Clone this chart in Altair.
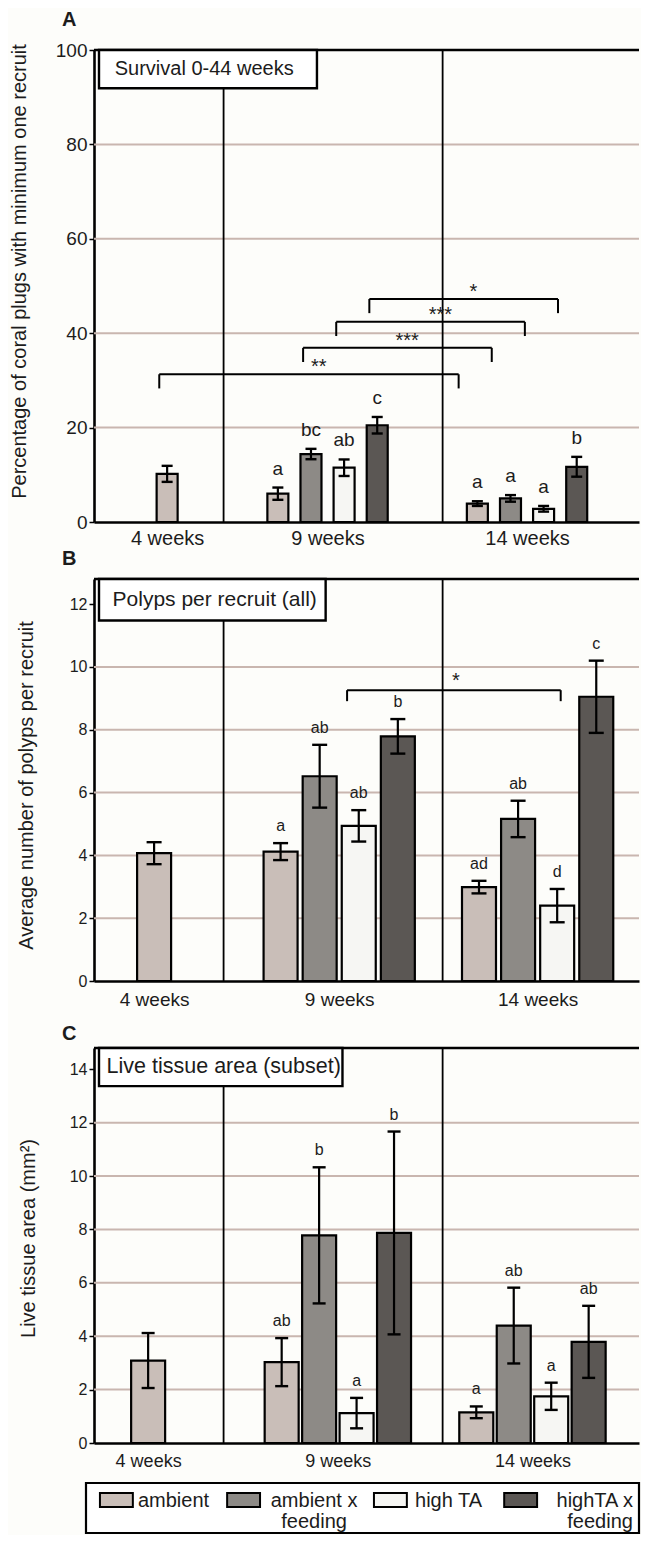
import altair as alt
import pandas as pd

# ---------------- data ----------------
TREATMENTS = ["ambient", "ambient x feeding", "high TA", "highTA x feeding"]
GROUPS = ["4 weeks", "9 weeks", "14 weeks"]

# Panel A - percentage of coral plugs with minimum one recruit
A_MEAN_4W = [10.2]
A_ERR_4W = [1.7]
A_MEAN_9W = [6.0, 14.4, 11.5, 20.5]
A_ERR_9W = [1.3, 1.1, 1.75, 1.75]
A_MEAN_14W = [3.9, 5.0, 2.8, 11.7]
A_ERR_14W = [0.5, 0.7, 0.6, 2.1]
A_LET_9W = ["a", "bc", "ab", "c"]
A_LET_14W = ["a", "a", "a", "b"]
A_BRACKETS = [  # (from group, to group, treatment, level, label)
    ("4 weeks", "14 weeks", "ambient", 31.3, "**"),
    ("9 weeks", "14 weeks", "ambient x feeding", 36.9, "***"),
    ("9 weeks", "14 weeks", "high TA", 42.4, "***"),
    ("9 weeks", "14 weeks", "highTA x feeding", 47.25, "*"),
]

# Panel B - average number of polyps per recruit
B_MEAN_4W = [4.07]
B_ERR_4W = [0.35]
B_MEAN_9W = [4.12, 6.52, 4.94, 7.79]
B_ERR_9W = [0.27, 1.0, 0.5, 0.55]
B_MEAN_14W = [2.99, 5.16, 2.40, 9.05]
B_ERR_14W = [0.2, 0.58, 0.53, 1.15]
B_LET_9W = ["a", "ab", "ab", "b"]
B_LET_14W = ["ad", "ab", "d", "c"]
B_BRACKETS = [("9 weeks", "14 weeks", "high TA", 9.26, "*")]

# Panel C - live tissue area (mm2)
C_MEAN_4W = [3.09]
C_ERR_4W = [1.03]
C_MEAN_9W = [3.03, 7.78, 1.12, 7.87]
C_ERR_9W = [0.9, 2.55, 0.57, 3.8]
C_MEAN_14W = [1.15, 4.40, 1.75, 3.79]
C_ERR_14W = [0.22, 1.42, 0.51, 1.35]
C_LET_9W = ["ab", "b", "a", "b"]
C_LET_14W = ["a", "ab", "a", "ab"]
C_BRACKETS = []

# ---------------- layout & style ----------------
FONT = "Liberation Sans"
TXT = "#1c1c1c"
GRID = "#c9b6af"
BG = "#fdfdfa"
PLOT_W = 545
X_UNITS = PLOT_W / 27.65
SEPARATORS = [4.59, 12.66]
COLORS_A = ["#c9beb8", "#8d8a86", "#f6f6f3", "#5b5754"]
COLORS_BC = ["#c8bcb6", "#a39a95", "#ffffff", "#625a56"]

PANELS = {
    "A": dict(height=472, ymax=100, yticks=[0, 20, 40, 60, 80, 100], grid=[20, 40, 60, 80],
              ytitle="Percentage of coral plugs with minimum one recruit", titleX=-65, titleY=221,
              ytick_fs=19, xlab_fs=20, xlab_pad=6, xpad_fs=0, xpad=0, letter_fs=19, letter_dy=-13,
              centers=[2.51, 8.42, 15.77], step=1.22, bar=21, cap=11,
              box_w=8.03, box_y=91.9, box_text="Survival 0-44 weeks", box_fs=20, box_tx=0.58,
              colors=COLORS_A, leg_off=(-0.29, -0.69), star_dx=0.36, leg_drop=3.0, star_dy=-1,
              title_offset=11),
    "B": dict(height=402, ymax=12.8, yticks=[0, 2, 4, 6, 8, 10, 12], grid=[2, 4, 6, 8, 10],
              ytitle="Average number of polyps per recruit", titleX=-58, titleY=206,
              ytick_fs=16, xlab_fs=19, xlab_pad=9, xpad_fs=10, xpad=4, letter_fs=16, letter_dy=-12,
              centers=[2.03, 8.85, 16.16], step=1.44, bar=34, cap=15,
              box_w=8.35, box_y=11.48, box_text="Polyps per recruit (all)", box_fs=21, box_tx=0.5,
              colors=COLORS_BC, leg_off=(-0.43, 0.13), star_dx=0.07, leg_drop=0.35, star_dy=-3,
              title_offset=9),
    "C": dict(height=395, ymax=14.8, yticks=[0, 2, 4, 6, 8, 10, 12, 14], grid=[2, 4, 6, 8, 10, 12],
              ytitle="Live tissue area (mm²)", titleX=-56, titleY=190,
              ytick_fs=16, xlab_fs=18, xlab_pad=9, xpad_fs=9, xpad=2, letter_fs=16, letter_dy=-12,
              centers=[1.81, 8.80, 15.97], step=1.38, bar=34, cap=13,
              box_w=8.97, box_y=13.37, box_text="Live tissue area (subset)", box_fs=21.5, box_tx=0.28,
              colors=COLORS_BC, leg_off=(0, 0), star_dx=0, leg_drop=0.35, star_dy=-3,
              title_offset=3),
}

PANEL_DATA = {
    "A": ([A_MEAN_4W, A_MEAN_9W, A_MEAN_14W], [A_ERR_4W, A_ERR_9W, A_ERR_14W],
          [[""], A_LET_9W, A_LET_14W], A_BRACKETS),
    "B": ([B_MEAN_4W, B_MEAN_9W, B_MEAN_14W], [B_ERR_4W, B_ERR_9W, B_ERR_14W],
          [[""], B_LET_9W, B_LET_14W], B_BRACKETS),
    "C": ([C_MEAN_4W, C_MEAN_9W, C_MEAN_14W], [C_ERR_4W, C_ERR_9W, C_ERR_14W],
          [[""], C_LET_9W, C_LET_14W], C_BRACKETS),
}


def slot(p, gi, n, i):
    return p["centers"][gi] + (i - (n - 1) / 2.0) * p["step"]


def bar_center(p, group, treatment):
    gi = GROUPS.index(group)
    if gi == 0:
        return slot(p, 0, 1, 0)
    return slot(p, gi, 4, TREATMENTS.index(treatment))


def label_expr():
    return (f"datum.value < {SEPARATORS[0]} ? '{GROUPS[0]}' : "
            f"datum.value < {SEPARATORS[1]} ? '{GROUPS[1]}' : '{GROUPS[2]}'")


def make_panel(key):
    p = PANELS[key]
    means, errs, letters, brackets = PANEL_DATA[key]

    rows = []
    for gi, g in enumerate(GROUPS):
        n = len(means[gi])
        for i in range(n):
            t = TREATMENTS[i] if n == 4 else TREATMENTS[0]
            m, e = means[gi][i], errs[gi][i]
            rows.append(dict(group=g, treatment=t, x=slot(p, gi, n, i), mean=m,
                             lo=m - e, hi=m + e, letter=letters[gi][i]))
    bars = pd.DataFrame(rows)

    xs = alt.Scale(domain=[0, X_UNITS], nice=False, zero=False)
    ys = alt.Scale(domain=[0, p["ymax"]], nice=False)
    xaxis_kw = dict(values=p["centers"], labelExpr=label_expr(), ticks=False, tickSize=0,
                    domain=True, domainColor="black", domainWidth=2.6, grid=False,
                    labelFontSize=p["xlab_fs"], labelFont=FONT, labelColor=TXT,
                    labelPadding=p["xlab_pad"], labelFlush=False, labelOverlap=False)
    if p["xpad_fs"]:
        xaxis_kw.update(title=" ", titleFontSize=p["xpad_fs"], titlePadding=p["xpad"])
    else:
        xaxis_kw.update(title=None)
    xaxis = alt.Axis(**xaxis_kw)
    yaxis = alt.Axis(values=p["yticks"], grid=False, domain=True, domainColor="black",
                     domainWidth=2.6, ticks=True, tickSize=5, tickColor="black", tickWidth=1.5,
                     labelFontSize=p["ytick_fs"], labelFont=FONT, labelColor=TXT, labelPadding=2,
                     title=p["ytitle"], titleFontSize=20, titleFont=FONT, titleFontWeight="normal",
                     titleColor=TXT, titleX=p["titleX"], titleY=p["titleY"])

    def X(f):
        return alt.X(f"{f}:Q", scale=xs, axis=xaxis)

    def Y(f):
        return alt.Y(f"{f}:Q", scale=ys, axis=yaxis)

    grid = alt.Chart(pd.DataFrame({"g": p["grid"]})).mark_rule(
        color=GRID, strokeWidth=2).encode(y=Y("g"))

    seps = alt.Chart(pd.DataFrame({"sx": SEPARATORS, "y0": [0, 0],
                                   "y1": [p["ymax"], p["ymax"]]})).mark_rule(
        color="black", strokeWidth=1.8).encode(x=X("sx"), y=Y("y0"), y2=alt.Y2("y1"))

    top = alt.Chart(pd.DataFrame({"t": [p["ymax"]]})).mark_rule(
        color="black", strokeWidth=2.6).encode(y=Y("t"), x=alt.value(0), x2=alt.value("width"))

    barl = alt.Chart(bars).mark_bar(size=p["bar"], stroke="black", strokeWidth=2.2).encode(
        x=X("x"), y=Y("mean"),
        color=alt.Color("treatment:N", scale=alt.Scale(domain=TREATMENTS, range=p["colors"]),
                        legend=None))
    stem = alt.Chart(bars).mark_rule(color="black", strokeWidth=2.2).encode(
        x=X("x"), y=Y("lo"), y2=alt.Y2("hi"))
    cap_hi = alt.Chart(bars).mark_tick(orient="horizontal", size=p["cap"], thickness=2.4,
                                       color="black", opacity=1).encode(x=X("x"), y=Y("hi"))
    cap_lo = alt.Chart(bars).mark_tick(orient="horizontal", size=p["cap"], thickness=2.4,
                                       color="black", opacity=1).encode(x=X("x"), y=Y("lo"))
    lets = alt.Chart(bars).mark_text(fontSize=p["letter_fs"], font=FONT, color=TXT,
                                     baseline="alphabetic", dy=p["letter_dy"]).encode(
        x=X("x"), y=Y("hi"), text="letter:N")

    layers = [grid, seps, top, barl, stem, cap_hi, cap_lo, lets]

    if brackets:
        br = []
        for g0, g1, t, lev, lab in brackets:
            xl = bar_center(p, g0, t) + p["leg_off"][0]
            xr = bar_center(p, g1, t) + p["leg_off"][1]
            br.append(dict(xl=xl, xr=xr, lev=lev, leg=lev - p["leg_drop"],
                           sx=(xl + xr) / 2 + p["star_dx"], lab=lab))
        bdf = pd.DataFrame(br)
        layers += [
            alt.Chart(bdf).mark_rule(color="black", strokeWidth=2).encode(
                x=X("xl"), x2=alt.X2("xr"), y=Y("lev")),
            alt.Chart(bdf).mark_rule(color="black", strokeWidth=2).encode(
                x=X("xl"), y=Y("lev"), y2=alt.Y2("leg")),
            alt.Chart(bdf).mark_rule(color="black", strokeWidth=2).encode(
                x=X("xr"), y=Y("lev"), y2=alt.Y2("leg")),
            alt.Chart(bdf).mark_text(fontSize=20, font=FONT, color=TXT, baseline="alphabetic",
                                     dy=p["star_dy"]).encode(x=X("sx"), y=Y("lev"), text="lab:N"),
        ]

    box = pd.DataFrame({"b0": [0.0], "b1": [p["box_w"]], "y0": [p["box_y"]], "y1": [p["ymax"]],
                        "tx": [p["box_tx"]], "ty": [(p["box_y"] + p["ymax"]) / 2],
                        "txt": [p["box_text"]]})
    layers += [
        alt.Chart(box).mark_rect(fill="white", stroke="black", strokeWidth=2.4).encode(
            x=X("b0"), x2=alt.X2("b1"), y=Y("y0"), y2=alt.Y2("y1")),
        alt.Chart(box).mark_text(align="left", baseline="middle", fontSize=p["box_fs"],
                                 font=FONT, color=TXT).encode(x=X("tx"), y=Y("ty"), text="txt:N"),
    ]

    return alt.layer(*layers).properties(
        width=PLOT_W, height=p["height"],
        title=alt.TitleParams(key, anchor="start", frame="group", fontSize=20, fontWeight="bold",
                              font=FONT, color=TXT, dx=-32, offset=p["title_offset"]))


# ---------------- legend (manual boxed legend) ----------------
LEG_SWATCH_X = [0.81, 5.41, 10.72, 15.43]
LEG_SW_W = 1.19
LEG_TEXT = [  # (x, align) for the label of each treatment
    (1.59, "left"), (7.96, "center"), (11.61, "left"), (19.49, "right")]
LEG_H = 50


def make_legend():
    xs = alt.Scale(domain=[0, X_UNITS], nice=False, zero=False)
    frame = alt.Chart(pd.DataFrame({"k": [0]})).mark_rect(
        fill="white", stroke="black", strokeWidth=2.2).encode(
        x=alt.value(-8), x2=alt.value("width"), y=alt.value(0), y2=alt.value("height"))
    sw = pd.DataFrame({"treatment": TREATMENTS,
                       "x0": [x - LEG_SW_W / 2 for x in LEG_SWATCH_X],
                       "x1": [x + LEG_SW_W / 2 for x in LEG_SWATCH_X]})
    layers = [frame, alt.Chart(sw).mark_rect(stroke="black", strokeWidth=2).encode(
        x=alt.X("x0:Q", scale=xs, axis=None), x2="x1:Q",
        y=alt.value(10), y2=alt.value(24),
        color=alt.Color("treatment:N", scale=alt.Scale(domain=TREATMENTS, range=COLORS_A),
                        legend=None))]
    rows = []
    for t, (x, al) in zip(TREATMENTS, LEG_TEXT):
        if " x " in t:
            a, b = t.split(" x ")
            rows.append(dict(text=a + " x", x=x, line=1, align=al))
            rows.append(dict(text=b, x=x, line=2, align=al))
        else:
            rows.append(dict(text=t, x=x, line=1, align=al))
    ldf = pd.DataFrame(rows)
    for line, ypix in [(1, 24), (2, 45)]:
        for al in ["left", "center", "right"]:
            sub = ldf[(ldf.line == line) & (ldf["align"] == al)]
            if len(sub) == 0:
                continue
            layers.append(alt.Chart(sub).mark_text(
                align=al, baseline="alphabetic", fontSize=20, font=FONT, color=TXT).encode(
                x=alt.X("x:Q", scale=xs, axis=None), y=alt.value(ypix), text="text:N"))
    return alt.layer(*layers).properties(width=PLOT_W, height=LEG_H)


chart = alt.vconcat(make_panel("A"), make_panel("B"), make_panel("C"), make_legend(),
                    spacing=0).properties(
    padding={"left": 0, "top": 2, "right": 0, "bottom": 0},
    background=BG,
).configure_view(stroke=None)

chart.save("out.html", embed_options={"renderer": "svg", "actions": False})
